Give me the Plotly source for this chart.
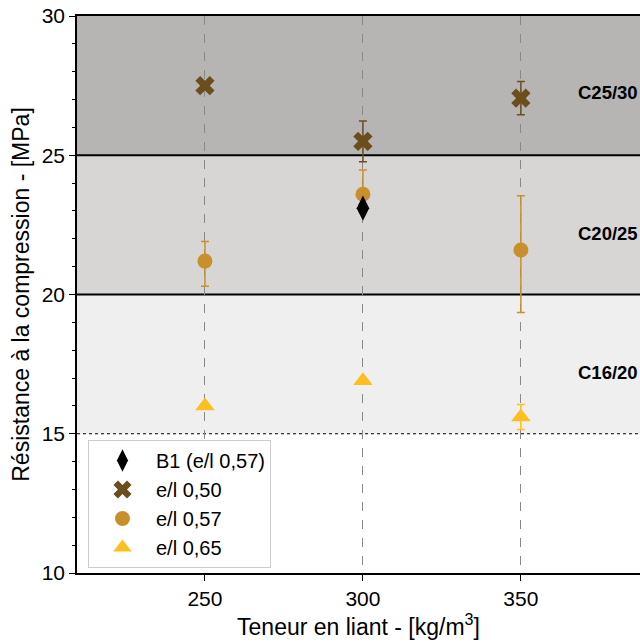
import plotly.graph_objects as go

# Data
teneur = [250, 300, 350]
b1_x = [300]
b1_y = [23.1]
el050 = [27.5, 25.5, 27.05]
el050_err = [0.0, 0.73, 0.6]
el057 = [21.2, 23.6, 21.6]
el057_err_plus = [0.7, 0.87, 1.95]
el057_err_minus = [0.9, 0.45, 2.25]
el065 = [16.0, 16.9, 15.6]
el065_err = [0.0, 0.0, 0.45]

classes = ["C16/20", "C20/25", "C25/30"]
class_low = [15, 20, 25]
class_high = [20, 25, 30]
class_label_y = [17.2, 22.2, 27.25]
class_colors = ["#efefef", "#d8d5d5", "#b6b5b4"]

FONT = "Liberation Sans, Arial, sans-serif"

fig = go.Figure()

fig.add_trace(go.Scatter(x=teneur, y=el050, mode="markers", name="e/l 0,50",
                         legendgroup="b", legendrank=2,
                         marker=dict(symbol="x", size=17, color="#6b4e1e",
                                     line=dict(width=0)),
                         error_y=dict(type="data", array=el050_err, color="#6b4e1e",
                                      thickness=1.5, width=4)))
fig.add_trace(go.Scatter(x=teneur, y=el057, mode="markers", name="e/l 0,57",
                         legendgroup="c", legendrank=3,
                         marker=dict(symbol="circle", size=15, color="#c8902c"),
                         error_y=dict(type="data", array=el057_err_plus,
                                      arrayminus=el057_err_minus, symmetric=False,
                                      color="#c8902c", thickness=1.5, width=4)))
fig.add_trace(go.Scatter(x=teneur, y=el065, mode="markers", name="e/l 0,65",
                         legendgroup="d", legendrank=4,
                         marker=dict(symbol="triangle-up", size=17, color="#fdbf1e"),
                         error_y=dict(type="data", array=el065_err, color="#fdbf1e",
                                      thickness=1.5, width=4)))
fig.add_trace(go.Scatter(x=b1_x, y=b1_y, mode="markers", name="B1 (e/l 0,57)",
                         legendgroup="a", legendrank=1,
                         marker=dict(symbol="diamond-tall", size=18, color="black")))

for lo, hi, col, lab, ly in zip(class_low, class_high, class_colors, classes, class_label_y):
    fig.add_shape(type="rect", xref="paper", yref="y", x0=0, x1=1, y0=lo, y1=hi,
                  fillcolor=col, line=dict(width=0), layer="below")
    fig.add_annotation(x=377.5, y=ly, xref="x", yref="y", text="<b>%s</b>" % lab,
                       showarrow=False, font=dict(family=FONT, size=18.5, color="black"))

for yv in [20, 25]:
    fig.add_shape(type="line", xref="paper", yref="y", x0=0, x1=1, y0=yv, y1=yv,
                  line=dict(color="black", width=2), layer="between")
fig.add_shape(type="line", xref="paper", yref="y", x0=0, x1=1, y0=15, y1=15,
              line=dict(color="black", width=1, dash="dot"), layer="between")

fig.update_layout(
    width=640, height=644,
    margin=dict(l=77, r=0, t=16, b=71, autoexpand=False),
    plot_bgcolor="white", paper_bgcolor="white",
    font=dict(family=FONT, size=21, color="black"),
    showlegend=True,
    legend=dict(x=0.0195, y=0.009, xanchor="left", yanchor="bottom",
                bgcolor="white", bordercolor="#cccccc", borderwidth=1,
                font=dict(family=FONT, size=20), tracegroupgap=0,
                itemwidth=57, itemsizing="trace"),
    xaxis=dict(range=[209.5, 387.7], tickvals=teneur, ticktext=[str(v) for v in teneur],
               showgrid=True, gridcolor="#888888", griddash="dash", gridwidth=1,
               showline=True, linecolor="black", linewidth=1.5, mirror=True,
               ticks="outside", ticklen=6, tickcolor="black",
               zeroline=False, automargin=False, ticklabeloverflow="allow",
               title=dict(text="Teneur en liant - [kg/m<sup>3</sup>]",
                          font=dict(family=FONT, size=23), standoff=5),
               tickfont=dict(family=FONT, size=21)),
    yaxis=dict(range=[10, 30], tickvals=[10, 15, 20, 25, 30],
               showgrid=False, zeroline=False, automargin=False,
               ticklabeloverflow="allow",
               showline=True, linecolor="black", linewidth=1.5, mirror=False,
               ticks="outside", ticklen=6, tickcolor="black",
               minor=dict(ticks="outside", ticklen=3, dtick=1, tickcolor="black", showgrid=False),
               title=dict(text="Résistance à la compression - [MPa]",
                          font=dict(family=FONT, size=23), standoff=6),
               tickfont=dict(family=FONT, size=21)),
)

fig.write_html(
    "out.html",
    config={"displayModeBar": False},
    post_script="document.body.style.margin='0';document.body.style.overflow='hidden';",
)
